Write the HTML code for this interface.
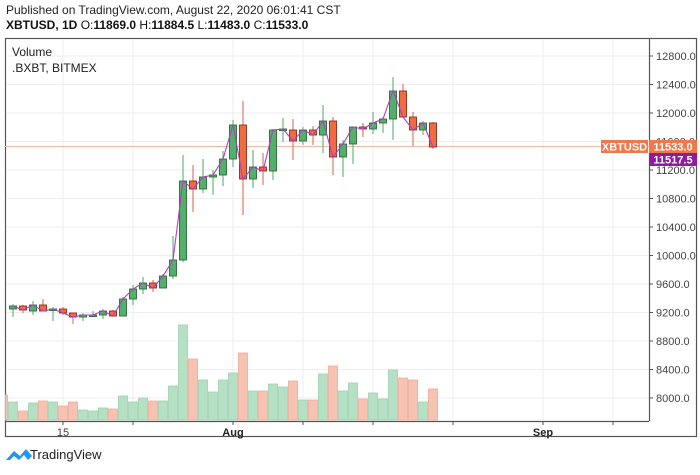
<!DOCTYPE html>
<html><head><meta charset="utf-8"><style>
body{margin:0;background:#fff;width:700px;height:470px;overflow:hidden;font-family:"Liberation Sans",Arial,sans-serif}
</style></head><body>
<svg width="700" height="470" viewBox="0 0 700 470" xmlns="http://www.w3.org/2000/svg" font-family="Liberation Sans, Arial, sans-serif">
<text x="6" y="14" font-size="12" fill="#222">Published on TradingView.com, August 22, 2020 06:01:41 CST</text>
<text x="6" y="29" font-size="12" fill="#111" font-weight="bold">XBTUSD, 1D <tspan font-weight="normal">O:</tspan>11869.0 <tspan font-weight="normal">H:</tspan>11884.5 <tspan font-weight="normal">L:</tspan>11483.0 <tspan font-weight="normal">C:</tspan>11533.0</text>
<rect x="5.5" y="38.5" width="691" height="398" fill="#fff" stroke="#555" stroke-width="1.2"/>
<g id="grid" stroke="#eeeeee" stroke-width="1"></g>
<line x1="649.5" y1="38" x2="649.5" y2="421" stroke="#555" stroke-width="1.2"/>
<line x1="5" y1="421.5" x2="649" y2="421.5" stroke="#555" stroke-width="1.2"/>
<g id="vol"></g>
<line x1="5" y1="146.5" x2="649" y2="146.5" stroke="#f4b9a6" stroke-width="1"/>
<g id="c"></g>
<polyline id="ma" fill="none" stroke="#b040c0" stroke-width="1.1"/>
<g id="ax" font-size="11" fill="#444"></g>
<text x="12" y="56" font-size="12" fill="#222">Volume</text>
<text x="12" y="72" font-size="12" fill="#222">.BXBT, BITMEX</text>
<rect x="601" y="140" width="47" height="13" fill="#f0784a"/>
<text x="624.5" y="150.5" font-size="11" fill="#fff" font-weight="bold" text-anchor="middle">XBTUSD</text>
<rect x="649" y="140" width="48" height="13" fill="#f0784a"/>
<text x="673" y="150.5" font-size="11" fill="#fff" font-weight="bold" text-anchor="middle">11533.0</text>
<rect x="649" y="153" width="48" height="13" fill="#8e1c9e"/>
<text x="673" y="163.5" font-size="11" fill="#fff" font-weight="bold" text-anchor="middle">11517.5</text>
<text x="63" y="436" font-size="11" fill="#444" text-anchor="middle">15</text>
<text x="233" y="436" font-size="11" fill="#222" font-weight="bold" text-anchor="middle">Aug</text>
<text x="543" y="436" font-size="11" fill="#222" font-weight="bold" text-anchor="middle">Sep</text>
<g transform="translate(6,446)">
<path d="M0 14 L8 5 L14 10 L20 3 L26 10 L22 14 L18 9 L13 14 L8 10 L4 14Z" fill="#2196f3"/>
</g>
<text x="30" y="459" font-size="13" fill="#222">TradingView</text>
</svg>
<script>
const NS="http://www.w3.org/2000/svg";
function el(p,t,a){const e=document.createElementNS(NS,t);for(const k in a)e.setAttribute(k,a[k]);p.appendChild(e);return e;}
const g=document.getElementById('grid'),ax=document.getElementById('ax');
for(let k=0;k<13;k++){const y=56+28.5*k;el(g,'line',{x1:6,x2:649,y1:y,y2:y});
 el(ax,'line',{x1:649,x2:653,y1:y,y2:y,stroke:'#555'});
 const t=el(ax,'text',{x:656,y:y+4});t.textContent=(12800-400*k).toFixed(1);}
[63,133,233,303,373,453,543,613].forEach(x=>{el(g,'line',{x1:x,x2:x,y1:39,y2:421});el(ax,'line',{x1:x,x2:x,y1:421,y2:425,stroke:'#555'});});
// volume
const vol=[['r',5,8,395],['g',8,18,402],['r',18,28,411],['g',28,38,403],['r',38,48,401],['g',48,58,402],['r',58,68,406],['r',68,78,402],['g',78,88,410],['g',88,98,411],['g',98,108,408],['r',108,118,409],['g',118,128,396],['g',128,138,402],['g',138,148,398],['r',148,158,401],['g',158,168,401],['g',168,178,386],['g',178,188,325],['r',188,198,359],['g',198,208,380],['g',208,218,392],['g',218,228,380],['g',228,238,373],['r',238,248,353],['g',248,258,391],['r',258,268,391],['g',268,278,384],['g',278,288,387],['r',288,298,381],['g',298,308,400],['r',308,318,400],['g',318,328,374],['r',328,338,366],['g',338,348,391],['g',348,358,383],['r',358,368,399],['g',368,378,393],['g',378,388,399],['g',388,398,370],['r',398,408,378],['r',408,418,380],['g',418,428,402],['r',428,438,389]];
const V=document.getElementById('vol');
vol.forEach(([c,a,b,t])=>el(V,'rect',{x:a+0.5,y:t,width:b-a-1,height:420-t,fill:c=='g'?'#b6e0c4':'#f6c3b3',stroke:c=='g'?'#9fd0b0':'#f0ab98','stroke-width':0.8}));
// candles: [open y, close y, high y, low y]
const C=[[309,306,304,317],[306,310,305,313],[311,305,301,315],[305,311,299,311],[310,309,307,321],[309,313,307,315],[313,317,313,324],[317,315,313,321],[316,315,311,317],[315,311,309,319],[311,316,310,317],[316,299,297,316],[299,289,285,305],[289,283,277,294],[283,288,280,292],[288,276,274,288],[276,260,236,279],[260,181,155,262],[181,189,165,212],[189,177,159,193],[177,175,170,195],[175,159,151,186],[159,125,120,167],[125,179,101,215],[179,167,150,188],[167,171,153,185],[171,130,129,180],[130,129,118,142],[130,141,119,160],[141,130,127,145],[130,135,126,145],[135,121,105,153],[121,157,117,175],[157,144,140,177],[144,127,127,164],[127,129,123,137],[129,123,112,134],[123,119,117,133],[119,91,77,140],[91,117,84,117],[117,130,112,146],[130,123,121,135],[123,147,122,149]];
const G=document.getElementById('c');const pts=[];
C.forEach((d,i)=>{const x=13+10*i;const [o,c,h,l]=d;const up=c<o;
 el(G,'line',{x1:x,x2:x,y1:h,y2:l,stroke:up?'#6cb67f':'#e07a66','stroke-width':1.2});
 const top=Math.min(o,c),bh=Math.max(Math.abs(o-c),1.5);
 el(G,'rect',{x:x-3.5,y:top,width:7,height:bh,fill:up?'#52b06a':'#f06a44',stroke:up?'#2d6a3b':'#8a2e1c','stroke-width':0.9});
 pts.push(x+','+c);});
document.getElementById('ma').setAttribute('points',pts.join(' '));
</script>
</body></html>
